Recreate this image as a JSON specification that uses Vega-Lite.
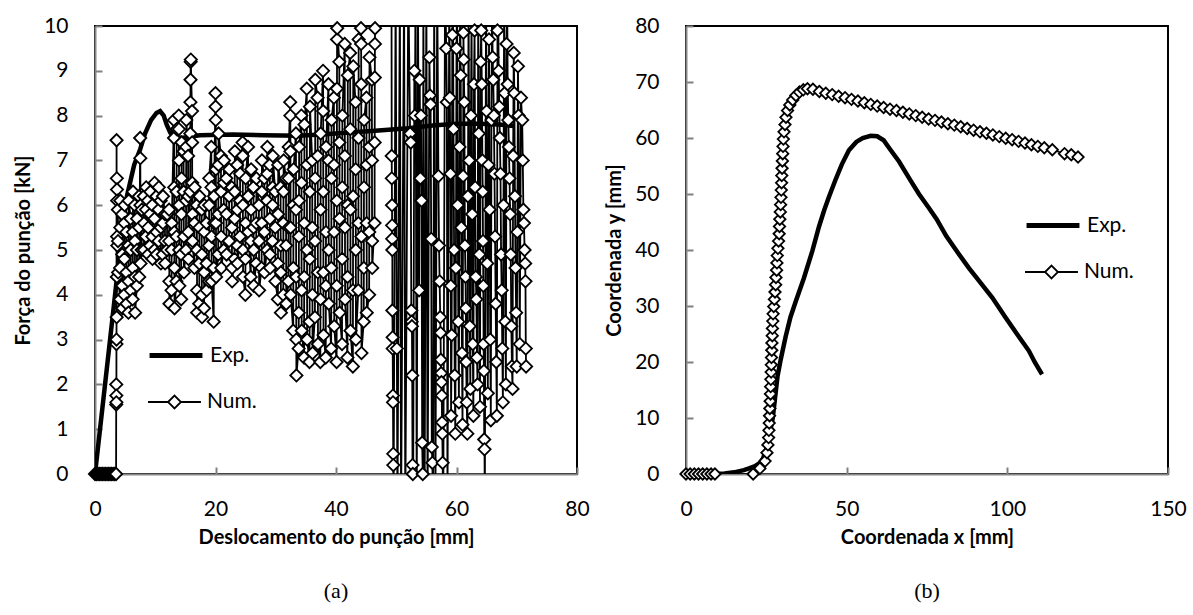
{
  "$schema": "https://vega.github.io/schema/vega-lite/v6.json",
  "background": "white",
  "padding": {"left": 12, "top": 14, "right": 10, "bottom": 10},
  "spacing": 12,
  "config": {
    "font": "Lato",
    "view": {"stroke": "black", "strokeWidth": 2},
    "axis": {"grid": false, "domainColor": "#888888", "domainWidth": 2, "tickColor": "#808080", "tickWidth": 2, "tickSize": -7, "labelFont": "Lato", "labelFontSize": 21, "labelColor": "black", "titleFont": "Lato", "titleFontSize": 20, "titleFontWeight": "bold", "titleColor": "black", "labelFlush": false, "labelOverlap": false, "zindex": 1},
    "axisX": {"labelPadding": 31, "titlePadding": 8},
    "axisY": {"labelPadding": 34, "titlePadding": 10},
    "title": {"font": "Liberation Serif", "fontSize": 22, "fontWeight": "normal", "color": "black", "orient": "bottom", "offset": 34},
    "legend": {"labelFont": "Lato", "labelFontSize": 21, "labelColor": "black", "labelOffset": 8.5, "symbolSize": 2116, "rowPadding": 2, "padding": 0}
  },
  "resolve": {"scale": {"shape": "independent"}, "legend": {"shape": "independent"}},
  "hconcat": [
    {
      "width": 482,
      "height": 448,
      "title": {"text": "(a)"},
      "resolve": {"scale": {"shape": "independent"}, "legend": {"shape": "independent"}},
      "encoding": {
        "x": {"field": "x", "type": "quantitative", "scale": {"domain": [0, 80], "nice": false, "zero": false}, "axis": {"values": [0, 20, 40, 60, 80], "title": "Deslocamento do punção [mm]"}},
        "y": {"field": "y", "type": "quantitative", "scale": {"domain": [0, 10], "nice": false, "zero": false}, "axis": {"values": [0, 1, 2, 3, 4, 5, 6, 7, 8, 9, 10], "title": "Força do punção [kN]"}}
      },
      "layer": [
        {
          "data": {"values": [
            {"x":0,"y":0},{"x":1,"y":1.2},{"x":2,"y":2.4},{"x":3,"y":3.6},{"x":4.15,"y":5.0},{"x":5.3,"y":6.2},{"x":6.5,"y":6.9},{"x":7.5,"y":7.25},{"x":8.3,"y":7.6},{"x":9.3,"y":7.9},{"x":10.2,"y":8.06},{"x":10.8,"y":8.1},{"x":11.4,"y":8.0},{"x":11.9,"y":7.8},{"x":12.5,"y":7.62},{"x":13,"y":7.55},{"x":14.3,"y":7.5},{"x":17.4,"y":7.56},{"x":22.9,"y":7.58},{"x":28,"y":7.56},{"x":34,"y":7.55},{"x":40,"y":7.6},{"x":46.5,"y":7.66},{"x":52,"y":7.72},{"x":56,"y":7.78},{"x":60,"y":7.82},{"x":64,"y":7.82},{"x":67,"y":7.8},{"x":69.5,"y":7.77}
          ]},
          "mark": {"type": "line", "color": "black", "strokeWidth": 4.5, "clip": true}
        },
        {
          "data": {"name": "numA"},
          "mark": {"type": "line", "color": "black", "strokeWidth": 1.8, "clip": true},
          "encoding": {"order": {"value": null}}
        },
        {
          "data": {"name": "numA"},
          "transform": [{"filter": "datum.y >= 0 && datum.y <= 10"}],
          "mark": {"type": "point", "shape": "diamond", "filled": true, "fill": "white", "stroke": "black", "strokeWidth": 1.8, "size": 150, "opacity": 1}
        },
        {
          "data": {"values": [{"e": "Exp."}]},
          "mark": {"type": "point", "opacity": 0, "color": "black"},
          "encoding": {
            "x": {"value": 0},
            "y": {"value": 0},
            "shape": {"field": "e", "type": "nominal", "scale": {"domain": ["Exp."], "range": ["M-1.15,0L1.15,0"]},
              "legend": {"title": null, "orient": "none", "legendX": 55.5, "legendY": 304, "symbolStrokeWidth": 5, "symbolStrokeColor": "black"}}
          }
        },
        {
          "data": {"values": [{"n": "Num."}]},
          "mark": {"type": "point", "opacity": 0, "color": "black"},
          "encoding": {
            "x": {"value": 0},
            "y": {"value": 0},
            "shape": {"field": "n", "type": "nominal", "scale": {"domain": ["Num."], "range": ["M-1.15,0L-0.28,0M0.28,0L1.15,0M-0.28,0L0,-0.28L0.28,0L0,0.28Z"]},
              "legend": {"title": null, "orient": "none", "legendX": 55.5, "legendY": 352, "symbolStrokeWidth": 1.8, "symbolStrokeColor": "black"}}
          }
        }
      ]
    },
    {
      "width": 482,
      "height": 448,
      "title": {"text": "(b)"},
      "resolve": {"scale": {"shape": "independent"}, "legend": {"shape": "independent"}},
      "encoding": {
        "x": {"field": "x", "type": "quantitative", "scale": {"domain": [0, 150], "nice": false, "zero": false}, "axis": {"values": [0, 50, 100, 150], "title": "Coordenada x [mm]"}},
        "y": {"field": "y", "type": "quantitative", "scale": {"domain": [0, 80], "nice": false, "zero": false}, "axis": {"values": [0, 10, 20, 30, 40, 50, 60, 70, 80], "title": "Coordenada y  [mm]"}}
      },
      "layer": [
        {
          "data": {"values": [
            {"x":9.3,"y":0},{"x":12,"y":0.1},{"x":15,"y":0.3},{"x":18,"y":0.7},{"x":19.6,"y":1.0},{"x":21.5,"y":1.4},{"x":23,"y":2.0},{"x":24,"y":2.8},{"x":25,"y":4.5},{"x":26,"y":7},{"x":27,"y":10},{"x":27.8,"y":14},{"x":28.5,"y":17.5},{"x":29.5,"y":20.5},{"x":31,"y":24.5},{"x":32.5,"y":28},{"x":34.2,"y":30.9},{"x":36.7,"y":35},{"x":39.3,"y":39.8},{"x":41.4,"y":44.2},{"x":43,"y":47.1},{"x":44.5,"y":49.5},{"x":46.5,"y":52.5},{"x":48.5,"y":55.3},{"x":50.7,"y":57.8},{"x":53,"y":59.3},{"x":55,"y":60.0},{"x":57.5,"y":60.4},{"x":59.5,"y":60.3},{"x":61.5,"y":59.6},{"x":63.5,"y":58.0},{"x":66.3,"y":55.8},{"x":70,"y":52.3},{"x":72.5,"y":50},{"x":75.6,"y":47.5},{"x":78,"y":45.5},{"x":81,"y":42.5},{"x":85,"y":39.2},{"x":88,"y":36.8},{"x":91.2,"y":34.5},{"x":95.3,"y":31.5},{"x":99.5,"y":27.9},{"x":103,"y":25},{"x":106.7,"y":22},{"x":108.5,"y":20},{"x":110.8,"y":17.8}
          ]},
          "mark": {"type": "line", "color": "black", "strokeWidth": 4.5, "clip": true}
        },
        {
          "data": {"name": "numB"},
          "mark": {"type": "line", "color": "black", "strokeWidth": 1.5, "clip": true},
          "encoding": {"order": {"value": null}}
        },
        {
          "data": {"name": "numB"},
          "mark": {"type": "point", "shape": "diamond", "filled": true, "fill": "white", "stroke": "black", "strokeWidth": 1.8, "size": 130, "opacity": 1}
        },
        {
          "data": {"values": [{"e": "Exp."}]},
          "mark": {"type": "point", "opacity": 0, "color": "black"},
          "encoding": {
            "x": {"value": 0},
            "y": {"value": 0},
            "shape": {"field": "e", "type": "nominal", "scale": {"domain": ["Exp."], "range": ["M-1.15,0L1.15,0"]},
              "legend": {"title": null, "orient": "none", "legendX": 341.5, "legendY": 174, "symbolStrokeWidth": 5, "symbolStrokeColor": "black"}}
          }
        },
        {
          "data": {"values": [{"n": "Num."}]},
          "mark": {"type": "point", "opacity": 0, "color": "black"},
          "encoding": {
            "x": {"value": 0},
            "y": {"value": 0},
            "shape": {"field": "n", "type": "nominal", "scale": {"domain": ["Num."], "range": ["M-1.15,0L-0.28,0M0.28,0L1.15,0M-0.28,0L0,-0.28L0.28,0L0,0.28Z"]},
              "legend": {"title": null, "orient": "none", "legendX": 341.5, "legendY": 222, "symbolStrokeWidth": 1.8, "symbolStrokeColor": "black"}}
          }
        }
      ]
    }
  ],
  "datasets": {
    "numA": [
      {"x":0,"y":0},{"x":0.25,"y":0},{"x":0.5,"y":0},{"x":0.75,"y":0},{"x":1,"y":0},{"x":1.25,"y":0},{"x":1.5,"y":0},{"x":1.75,"y":0},{"x":2,"y":0},{"x":2.25,"y":0},{"x":2.5,"y":0},{"x":2.75,"y":0},{"x":3,"y":0},{"x":3.25,"y":0},{"x":3.5,"y":0},
      {"x":3.52,"y":1.55},{"x":3.53,"y":2.0},{"x":3.54,"y":1.75},{"x":3.55,"y":1.6},{"x":3.56,"y":2.9},{"x":3.57,"y":3.0},{"x":3.58,"y":7.45},{"x":3.6,"y":3.5},{"x":3.62,"y":6.6},{"x":3.63,"y":4.4},{"x":3.65,"y":6.35},{"x":3.66,"y":5.3},{"x":3.68,"y":6.1},{"x":3.7,"y":5.1},
      {"x":3.8,"y":5.9},{"x":3.82,"y":5.2},{"x":3.84,"y":4.5},
      {"x":4.15,"y":3.9},{"x":4.17,"y":4.6},{"x":4.19,"y":5.5},{"x":4.21,"y":6.1},
      {"x":4.5,"y":5.8},{"x":4.52,"y":4.9},{"x":4.54,"y":4.2},{"x":4.56,"y":3.7},
      {"x":4.85,"y":4.0},{"x":4.87,"y":4.8},{"x":4.89,"y":5.6},{"x":4.91,"y":6.0},
      {"x":5.2,"y":5.4},{"x":5.22,"y":4.5},{"x":5.24,"y":3.8},
      {"x":5.55,"y":3.6},{"x":5.57,"y":4.3},{"x":5.59,"y":5.1},{"x":5.61,"y":6.1},
      {"x":5.9,"y":5.7},{"x":5.92,"y":5.0},{"x":5.94,"y":4.1},
      {"x":6.25,"y":3.9},{"x":6.27,"y":4.6},{"x":6.29,"y":5.4},{"x":6.31,"y":6.3},
      {"x":6.6,"y":6.0},{"x":6.62,"y":5.2},{"x":6.64,"y":4.4},{"x":6.66,"y":3.6},
      {"x":6.95,"y":4.2},{"x":6.97,"y":5.0},{"x":6.99,"y":5.7},
      {"x":7.3,"y":6.2},{"x":7.32,"y":5.5},{"x":7.34,"y":4.4},
      {"x":7.5,"y":7.5},{"x":7.52,"y":7.05},{"x":7.54,"y":6.0},{"x":7.56,"y":4.7},
      {"x":7.75,"y":5.0},{"x":7.77,"y":5.9},
      {"x":8.1,"y":6.2},{"x":8.12,"y":5.6},{"x":8.14,"y":5.0},
      {"x":8.45,"y":5.3},{"x":8.47,"y":5.9},{"x":8.49,"y":6.4},
      {"x":8.8,"y":6.1},{"x":8.82,"y":5.5},{"x":8.84,"y":4.9},
      {"x":9.15,"y":5.1},{"x":9.17,"y":5.8},{"x":9.19,"y":6.3},
      {"x":9.5,"y":6.0},{"x":9.52,"y":5.3},{"x":9.54,"y":4.8},
      {"x":9.85,"y":5.0},{"x":9.87,"y":5.7},{"x":9.89,"y":6.5},
      {"x":10.2,"y":6.2},{"x":10.22,"y":5.4},{"x":10.24,"y":4.9},
      {"x":10.55,"y":5.2},{"x":10.57,"y":5.9},{"x":10.59,"y":6.4},
      {"x":10.9,"y":6.1},{"x":10.92,"y":5.5},{"x":10.94,"y":4.7},
      {"x":11.25,"y":4.9},{"x":11.27,"y":5.6},{"x":11.29,"y":6.2},
      {"x":11.6,"y":5.8},{"x":11.62,"y":5.2},{"x":11.64,"y":4.7},
      {"x":11.95,"y":5.0},{"x":11.97,"y":5.8},
      {"x":12.3,"y":5.9},{"x":12.32,"y":5.2},{"x":12.34,"y":4.3},{"x":12.36,"y":3.8},
      {"x":12.7,"y":4.1},{"x":12.72,"y":5.0},{"x":12.74,"y":5.6},
      {"x":13.1,"y":7.9},{"x":13.12,"y":7.5},{"x":13.14,"y":6.4},{"x":13.16,"y":5.4},{"x":13.18,"y":4.6},{"x":13.2,"y":3.7},
      {"x":13.5,"y":4.3},{"x":13.52,"y":5.3},{"x":13.54,"y":6.3},{"x":13.56,"y":7.7},
      {"x":13.9,"y":8.0},{"x":13.92,"y":7.7},{"x":13.94,"y":7.0},{"x":13.96,"y":6.0},{"x":13.98,"y":5.0},{"x":14.0,"y":4.2},
      {"x":14.3,"y":3.9},{"x":14.32,"y":4.9},{"x":14.34,"y":5.8},{"x":14.36,"y":6.6},{"x":14.38,"y":7.4},
      {"x":14.7,"y":7.2},{"x":14.72,"y":6.3},{"x":14.74,"y":5.3},{"x":14.76,"y":4.5},
      {"x":15.1,"y":5.0},{"x":15.12,"y":6.1},{"x":15.14,"y":7.3},{"x":15.16,"y":7.9},
      {"x":15.45,"y":7.1},{"x":15.47,"y":6.2},{"x":15.49,"y":5.4},{"x":15.51,"y":4.8},
      {"x":15.8,"y":6.3},{"x":15.82,"y":7.6},{"x":15.84,"y":8.3},{"x":15.86,"y":8.8},{"x":15.88,"y":9.2},{"x":15.9,"y":9.25},
      {"x":16.1,"y":8.1},{"x":16.12,"y":7.4},{"x":16.14,"y":6.5},{"x":16.16,"y":5.8},{"x":16.18,"y":5.2},
      {"x":16.5,"y":4.6},{"x":16.52,"y":5.6},{"x":16.54,"y":6.4},
      {"x":16.9,"y":6.0},{"x":16.92,"y":5.0},{"x":16.94,"y":4.1},{"x":16.96,"y":3.6},
      {"x":17.3,"y":3.8},{"x":17.32,"y":4.7},{"x":17.34,"y":5.5},{"x":17.36,"y":6.2},
      {"x":17.7,"y":5.9},{"x":17.72,"y":4.9},{"x":17.74,"y":4.0},{"x":17.76,"y":3.5},
      {"x":18.1,"y":3.7},{"x":18.12,"y":4.5},{"x":18.14,"y":5.4},{"x":18.16,"y":6.0},
      {"x":18.5,"y":5.6},{"x":18.52,"y":4.7},{"x":18.54,"y":4.1},
      {"x":18.9,"y":4.3},{"x":18.92,"y":5.1},{"x":18.94,"y":6.0},{"x":18.96,"y":6.6},
      {"x":19.3,"y":7.3},{"x":19.32,"y":6.4},{"x":19.34,"y":5.3},{"x":19.36,"y":4.3},
      {"x":19.7,"y":3.4},{"x":19.72,"y":4.6},{"x":19.74,"y":5.6},{"x":19.76,"y":6.2},
      {"x":20.0,"y":8.5},{"x":20.02,"y":8.2},{"x":20.04,"y":7.9},{"x":20.06,"y":6.8},{"x":20.08,"y":5.6},{"x":20.1,"y":4.4},
      {"x":20.45,"y":4.9},{"x":20.47,"y":5.8},{"x":20.49,"y":6.9},{"x":20.51,"y":7.6},
      {"x":20.9,"y":7.1},{"x":20.92,"y":6.3},{"x":20.94,"y":5.3},{"x":20.96,"y":4.6},
      {"x":21.35,"y":5.0},{"x":21.37,"y":5.9},{"x":21.39,"y":6.5},{"x":21.41,"y":7.0},
      {"x":21.8,"y":6.6},{"x":21.82,"y":5.8},{"x":21.84,"y":4.9},
      {"x":22.25,"y":5.2},{"x":22.27,"y":6.2},{"x":22.29,"y":6.8},
      {"x":22.7,"y":6.4},{"x":22.72,"y":5.5},{"x":22.74,"y":4.6},{"x":22.76,"y":4.3},
      {"x":23.15,"y":4.8},{"x":23.17,"y":5.7},{"x":23.19,"y":6.3},{"x":23.21,"y":7.2},
      {"x":23.6,"y":6.9},{"x":23.62,"y":5.9},{"x":23.64,"y":5.1},{"x":23.66,"y":4.7},
      {"x":24.05,"y":5.3},{"x":24.07,"y":6.1},{"x":24.09,"y":6.7},
      {"x":24.5,"y":7.4},{"x":24.52,"y":7.1},{"x":24.54,"y":6.0},{"x":24.56,"y":5.0},{"x":24.58,"y":4.4},
      {"x":24.95,"y":4.0},{"x":24.97,"y":4.8},{"x":24.99,"y":5.6},{"x":25.01,"y":6.6},
      {"x":25.4,"y":7.3},{"x":25.42,"y":6.2},{"x":25.44,"y":5.4},
      {"x":25.85,"y":4.4},{"x":25.87,"y":5.2},{"x":25.89,"y":5.9},{"x":25.91,"y":6.8},
      {"x":26.3,"y":6.4},{"x":26.32,"y":5.5},{"x":26.34,"y":5.0},{"x":26.36,"y":4.2},
      {"x":26.75,"y":4.7},{"x":26.77,"y":5.6},{"x":26.79,"y":6.6},
      {"x":27.2,"y":6.0},{"x":27.22,"y":5.2},{"x":27.24,"y":4.1},
      {"x":27.65,"y":4.6},{"x":27.67,"y":5.6},{"x":27.69,"y":6.3},{"x":27.71,"y":7.0},
      {"x":28.1,"y":6.6},{"x":28.12,"y":5.4},{"x":28.14,"y":4.5},
      {"x":28.55,"y":5.0},{"x":28.57,"y":6.1},{"x":28.59,"y":6.7},{"x":28.61,"y":7.3},
      {"x":29.0,"y":6.9},{"x":29.02,"y":5.7},{"x":29.04,"y":4.9},{"x":29.06,"y":4.6},
      {"x":29.45,"y":5.2},{"x":29.47,"y":6.0},{"x":29.49,"y":6.4},{"x":29.51,"y":7.1},
      {"x":29.9,"y":6.3},{"x":29.92,"y":5.5},{"x":29.94,"y":4.3},
      {"x":30.35,"y":3.9},{"x":30.37,"y":4.7},{"x":30.39,"y":5.8},{"x":30.41,"y":6.9},
      {"x":30.8,"y":6.4},{"x":30.82,"y":5.1},{"x":30.84,"y":4.5},{"x":30.86,"y":3.6},
      {"x":31.25,"y":4.0},{"x":31.27,"y":5.6},{"x":31.29,"y":6.3},{"x":31.31,"y":7.0},
      {"x":31.7,"y":6.6},{"x":31.72,"y":5.1},{"x":31.74,"y":3.8},
      {"x":32.1,"y":4.3},{"x":32.12,"y":5.5},{"x":32.14,"y":6.6},{"x":32.16,"y":7.3},
      {"x":32.4,"y":8.3},{"x":32.42,"y":8.0},{"x":32.44,"y":7.2},{"x":32.46,"y":5.5},{"x":32.48,"y":4.0},
      {"x":32.9,"y":3.2},{"x":32.92,"y":4.6},{"x":32.94,"y":6.0},{"x":32.96,"y":6.8},
      {"x":33.35,"y":7.6},{"x":33.37,"y":5.9},{"x":33.39,"y":4.4},{"x":33.41,"y":3.0},{"x":33.43,"y":2.2},
      {"x":33.8,"y":2.8},{"x":33.82,"y":3.6},{"x":33.84,"y":5.3},{"x":33.86,"y":6.1},{"x":33.88,"y":7.3},
      {"x":34.25,"y":8.0},{"x":34.27,"y":6.5},{"x":34.29,"y":4.1},{"x":34.31,"y":3.2},
      {"x":34.7,"y":2.6},{"x":34.72,"y":4.4},{"x":34.74,"y":5.6},{"x":34.76,"y":7.8},
      {"x":35.15,"y":8.6},{"x":35.17,"y":6.9},{"x":35.19,"y":5.0},{"x":35.21,"y":3.0},
      {"x":35.6,"y":2.5},{"x":35.62,"y":3.4},{"x":35.64,"y":4.8},{"x":35.66,"y":6.3},{"x":35.68,"y":8.2},
      {"x":36.05,"y":7.0},{"x":36.07,"y":5.5},{"x":36.09,"y":4.0},{"x":36.11,"y":2.7},
      {"x":36.5,"y":3.5},{"x":36.52,"y":5.2},{"x":36.54,"y":6.6},{"x":36.56,"y":8.8},
      {"x":36.95,"y":8.4},{"x":36.97,"y":7.1},{"x":36.99,"y":4.5},{"x":37.01,"y":2.9},
      {"x":37.4,"y":2.5},{"x":37.42,"y":3.9},{"x":37.44,"y":5.9},{"x":37.46,"y":7.6},
      {"x":37.85,"y":9.0},{"x":37.87,"y":8.1},{"x":37.89,"y":6.3},{"x":37.91,"y":4.5},{"x":37.93,"y":3.1},
      {"x":38.3,"y":2.6},{"x":38.32,"y":4.2},{"x":38.34,"y":5.4},{"x":38.36,"y":7.3},
      {"x":38.75,"y":8.7},{"x":38.77,"y":7.0},{"x":38.79,"y":5.0},{"x":38.81,"y":3.8},
      {"x":39.2,"y":2.8},{"x":39.22,"y":4.6},{"x":39.24,"y":6.6},{"x":39.26,"y":7.9},
      {"x":39.65,"y":8.4},{"x":39.67,"y":6.9},{"x":39.69,"y":5.4},{"x":39.71,"y":3.3},
      {"x":40.1,"y":2.5},{"x":40.12,"y":4.2},{"x":40.14,"y":6.1},{"x":40.16,"y":8.6},{"x":40.18,"y":9.7},{"x":40.2,"y":9.95},
      {"x":40.55,"y":9.2},{"x":40.57,"y":7.4},{"x":40.59,"y":5.7},{"x":40.61,"y":3.6},
      {"x":41.0,"y":2.9},{"x":41.02,"y":4.8},{"x":41.04,"y":6.4},{"x":41.06,"y":8.0},
      {"x":41.45,"y":9.6},{"x":41.47,"y":7.1},{"x":41.49,"y":5.5},{"x":41.51,"y":3.9},
      {"x":41.9,"y":2.6},{"x":41.92,"y":4.4},{"x":41.94,"y":6.0},{"x":41.96,"y":8.9},
      {"x":42.35,"y":9.4},{"x":42.37,"y":7.7},{"x":42.39,"y":5.9},{"x":42.41,"y":3.2},
      {"x":42.8,"y":2.4},{"x":42.82,"y":4.1},{"x":42.84,"y":6.2},{"x":42.86,"y":9.1},
      {"x":43.25,"y":8.3},{"x":43.27,"y":6.8},{"x":43.29,"y":5.0},{"x":43.31,"y":3.0},
      {"x":43.7,"y":4.1},{"x":43.72,"y":5.6},{"x":43.74,"y":7.5},{"x":43.76,"y":9.7},
      {"x":44.15,"y":9.95},{"x":44.17,"y":9.6},{"x":44.19,"y":8.7},{"x":44.21,"y":5.3},{"x":44.23,"y":2.7},
      {"x":44.6,"y":3.4},{"x":44.62,"y":4.6},{"x":44.64,"y":6.4},{"x":44.66,"y":7.9},
      {"x":45.05,"y":8.4},{"x":45.07,"y":6.9},{"x":45.09,"y":5.6},{"x":45.11,"y":3.6},
      {"x":45.5,"y":4.0},{"x":45.52,"y":5.4},{"x":45.54,"y":7.3},{"x":45.56,"y":9.3},
      {"x":45.95,"y":8.8},{"x":45.97,"y":7.0},{"x":45.99,"y":5.2},{"x":46.01,"y":4.6},
      {"x":46.4,"y":5.6},{"x":46.42,"y":7.4},{"x":46.44,"y":8.85},{"x":46.46,"y":9.6},{"x":46.48,"y":9.95},
      {"x":47.5,"y":11},{"x":49.2,"y":12},{"x":49.25,"y":7.1},{"x":49.26,"y":6.6},{"x":49.3,"y":6.0},{"x":49.31,"y":5.55},{"x":49.32,"y":5.25},{"x":49.35,"y":5.0},{"x":49.36,"y":3.65},{"x":49.4,"y":3.05},{"x":49.41,"y":2.8},{"x":49.45,"y":1.75},{"x":49.46,"y":1.6},{"x":49.5,"y":0.45},{"x":49.51,"y":0.2},{"x":49.55,"y":-1},{"x":49.9,"y":11},{"x":50.1,"y":2.8},{"x":50.2,"y":-1},{"x":50.6,"y":11},{"x":50.8,"y":-1},{"x":51.3,"y":11},{"x":51.5,"y":-1},{"x":52.0,"y":11},{"x":52.3,"y":7.6},{"x":52.4,"y":7.4},{"x":52.5,"y":3.65},{"x":52.55,"y":3.4},{"x":52.6,"y":3.3},{"x":52.65,"y":2.2},{"x":52.7,"y":0.2},{"x":52.75,"y":0.0},{"x":52.8,"y":-1},{"x":53.0,"y":9.0},{"x":53.1,"y":8.0},{"x":53.2,"y":11},{"x":53.4,"y":-1},{"x":53.6,"y":11},{"x":53.8,"y":4.1},{"x":53.9,"y":8.8},{"x":54.0,"y":6.6},{"x":54.1,"y":8.0},{"x":54.2,"y":6.1},{"x":54.3,"y":0.7},{"x":54.4,"y":0.0},{"x":54.5,"y":11},{"x":54.7,"y":-1},{"x":55.0,"y":11},{"x":55.2,"y":-1},{"x":55.5,"y":9.3},{"x":55.6,"y":8.45},{"x":55.7,"y":8.25},{"x":55.8,"y":5.25},{"x":55.9,"y":0.6},{"x":56.0,"y":0.25},{"x":56.1,"y":-1},{"x":56.3,"y":11},{"x":56.5,"y":-1},{"x":56.8,"y":11},{"x":57.0,"y":6.65},{"x":57.1,"y":5.1},{"x":57.2,"y":4.3},{"x":57.3,"y":3.5},{"x":57.35,"y":3.15},{"x":57.4,"y":2.55},{"x":57.45,"y":2.25},{"x":57.5,"y":2.05},{"x":57.55,"y":1.75},{"x":57.6,"y":1.15},{"x":57.65,"y":0.9},{"x":57.7,"y":0.25},{"x":57.8,"y":-1},{"x":58.1,"y":11},{"x":58.3,"y":9.5},{"x":58.4,"y":8.3},{"x":58.5,"y":-1},
      {"x":58.8,"y":10.8},{"x":58.9,"y":8.4},{"x":59.0,"y":6.7},{"x":59.05,"y":4.2},{"x":59.1,"y":1.3},{"x":59.2,"y":3.1},{"x":59.3,"y":9.8},{"x":59.4,"y":10.9},{"x":59.5,"y":7.7},{"x":59.6,"y":5.0},{"x":59.7,"y":2.2},{"x":59.8,"y":0.9},{"x":59.9,"y":4.6},{"x":60.0,"y":9.5},{"x":60.1,"y":11},{"x":60.2,"y":6.0},{"x":60.3,"y":3.4},{"x":60.4,"y":1.6},{"x":60.5,"y":7.3},{"x":60.6,"y":10.6},{"x":60.7,"y":8.9},{"x":60.8,"y":5.5},{"x":60.9,"y":2.7},{"x":61.0,"y":1.1},{"x":61.1,"y":6.65},{"x":61.15,"y":9.85},{"x":61.2,"y":9.25},{"x":61.3,"y":8.3},{"x":61.4,"y":5.1},{"x":61.5,"y":4.4},{"x":61.55,"y":3.7},{"x":61.6,"y":2.5},{"x":61.7,"y":1.6},{"x":61.8,"y":0.9},{"x":61.9,"y":6.2},{"x":62.0,"y":10.7},{"x":62.1,"y":7.0},{"x":62.2,"y":3.3},{"x":62.3,"y":1.9},{"x":62.4,"y":8.0},{"x":62.5,"y":10.3},{"x":62.6,"y":5.8},{"x":62.7,"y":2.9},{"x":62.8,"y":1.3},{"x":62.9,"y":8.7},{"x":63.0,"y":9.9},{"x":63.1,"y":6.4},{"x":63.2,"y":4.4},{"x":63.3,"y":3.9},{"x":63.4,"y":2.6},{"x":63.5,"y":2.0},{"x":63.6,"y":10.8},{"x":63.7,"y":7.6},{"x":63.8,"y":4.9},{"x":63.9,"y":1.5},{"x":64.0,"y":9.2},{"x":64.1,"y":9.9},{"x":64.2,"y":8.7},{"x":64.3,"y":7.0},{"x":64.35,"y":6.3},{"x":64.4,"y":5.2},{"x":64.45,"y":4.2},{"x":64.5,"y":2.9},{"x":64.55,"y":2.3},{"x":64.6,"y":0.77},{"x":64.65,"y":0.55},{"x":64.7,"y":-1},{"x":64.9,"y":10.9},{"x":65.0,"y":8.1},{"x":65.1,"y":4.7},{"x":65.2,"y":1.8},{"x":65.3,"y":6.9},{"x":65.4,"y":9.7},{"x":65.5,"y":5.9},{"x":65.6,"y":3.0},{"x":65.7,"y":1.2},{"x":65.8,"y":7.9},{"x":65.9,"y":10.6},{"x":66.0,"y":9.3},{"x":66.1,"y":8.8},{"x":66.2,"y":8.0},{"x":66.3,"y":6.7},{"x":66.4,"y":5.3},{"x":66.5,"y":3.8},{"x":66.6,"y":2.5},{"x":66.7,"y":1.3},{"x":66.8,"y":9.9},{"x":66.9,"y":10.9},{"x":67.0,"y":9.0},{"x":67.1,"y":8.2},{"x":67.2,"y":7.5},{"x":67.3,"y":6.7},{"x":67.4,"y":4.9},{"x":67.5,"y":4.1},{"x":67.6,"y":2.8},{"x":67.7,"y":1.6},{"x":67.8,"y":6.0},{"x":67.9,"y":10.4},{"x":68.0,"y":8.5},{"x":68.1,"y":3.4},{"x":68.2,"y":2.0},{"x":68.3,"y":9.6},{"x":68.4,"y":10.8},{"x":68.5,"y":8.7},{"x":68.6,"y":7.9},{"x":68.7,"y":7.3},{"x":68.8,"y":6.6},{"x":68.9,"y":5.8},{"x":69.0,"y":4.9},{"x":69.1,"y":3.3},{"x":69.2,"y":2.4},{"x":69.3,"y":1.9},{"x":69.4,"y":7.1},{"x":69.5,"y":9.4},{"x":69.6,"y":8.5},{"x":69.7,"y":6.2},{"x":69.8,"y":4.6},{"x":69.9,"y":3.6},{"x":70.0,"y":2.4},{"x":70.1,"y":5.4},{"x":70.2,"y":9.1},{"x":70.3,"y":8.0},{"x":70.5,"y":2.9},{"x":70.7,"y":8.4},{"x":70.9,"y":7.9},{"x":71.0,"y":7.0},{"x":71.1,"y":5.9},{"x":71.2,"y":5.6},{"x":71.3,"y":5.0},{"x":71.4,"y":4.7},{"x":71.45,"y":4.3},{"x":71.5,"y":2.8},{"x":71.55,"y":2.4}
    ],
    "numB": [
      {"x":0,"y":0},{"x":1.3,"y":0},{"x":2.6,"y":0},{"x":3.9,"y":0},{"x":5.2,"y":0},{"x":6.5,"y":0},{"x":7.8,"y":0},{"x":9.0,"y":0},{"x":20.9,"y":0},{"x":23.0,"y":1.0},{"x":24.6,"y":2.3},{"x":25.2,"y":3.8},{"x":25.5,"y":5.2},{"x":25.7,"y":6.5},{"x":25.8,"y":7.8},{"x":25.9,"y":9.1},{"x":26.0,"y":10.4},{"x":26.1,"y":11.7},{"x":26.2,"y":13.0},{"x":26.3,"y":14.3},{"x":26.35,"y":15.6},{"x":26.4,"y":16.9},{"x":26.5,"y":18.2},{"x":26.55,"y":19.5},{"x":26.6,"y":20.8},{"x":26.7,"y":22.1},{"x":26.75,"y":23.4},{"x":26.85,"y":24.7},{"x":26.9,"y":26.0},{"x":27.0,"y":27.3},{"x":27.1,"y":28.6},{"x":27.3,"y":29.9},{"x":27.5,"y":31.2},{"x":27.7,"y":32.5},{"x":27.9,"y":33.8},{"x":28.0,"y":35.1},{"x":28.2,"y":36.4},{"x":28.3,"y":37.7},{"x":28.4,"y":39.0},{"x":28.6,"y":40.3},{"x":28.8,"y":41.6},{"x":29.0,"y":42.9},{"x":29.1,"y":44.2},{"x":29.2,"y":45.5},{"x":29.35,"y":46.8},{"x":29.45,"y":48.1},{"x":29.55,"y":49.4},{"x":29.65,"y":50.7},{"x":29.75,"y":52.0},{"x":29.8,"y":53.3},{"x":29.9,"y":54.6},{"x":30.0,"y":55.9},{"x":30.1,"y":57.2},{"x":30.2,"y":58.5},{"x":30.3,"y":59.8},{"x":30.5,"y":61.1},{"x":30.8,"y":62.4},{"x":31.1,"y":63.7},{"x":31.6,"y":64.9},{"x":32.3,"y":65.9},{"x":33.2,"y":66.8},{"x":34.2,"y":67.6},{"x":35.3,"y":68.2},{"x":36.5,"y":68.6},{"x":37.8,"y":68.8},{"x":39.5,"y":68.7},{"x":41.5,"y":68.3},{"x":43.5,"y":68.0},{"x":45.5,"y":67.75},{"x":47.5,"y":67.45},{"x":49.5,"y":67.2},{"x":51.5,"y":66.9},{"x":53.5,"y":66.6},{"x":55.5,"y":66.3},{"x":57.5,"y":66.0},{"x":59.5,"y":65.7},{"x":61.5,"y":65.45},{"x":63.5,"y":65.15},{"x":65.5,"y":64.9},{"x":67.5,"y":64.6},{"x":69.5,"y":64.3},{"x":71.5,"y":64.0},{"x":73.5,"y":63.7},{"x":75.5,"y":63.4},{"x":77.5,"y":63.15},{"x":79.5,"y":62.85},{"x":81.5,"y":62.55},{"x":83.5,"y":62.3},{"x":85.5,"y":62.0},{"x":87.5,"y":61.7},{"x":89.5,"y":61.4},{"x":91.5,"y":61.1},{"x":93.5,"y":60.85},{"x":95.5,"y":60.55},{"x":97.5,"y":60.25},{"x":99.5,"y":59.95},{"x":101.5,"y":59.7},{"x":103.5,"y":59.4},{"x":105.5,"y":59.1},{"x":107.5,"y":58.8},{"x":109.5,"y":58.5},{"x":111.5,"y":58.25},{"x":114,"y":57.9},{"x":117.8,"y":57.2},{"x":119.9,"y":57.0},{"x":122,"y":56.6}
    ]
  }
}
